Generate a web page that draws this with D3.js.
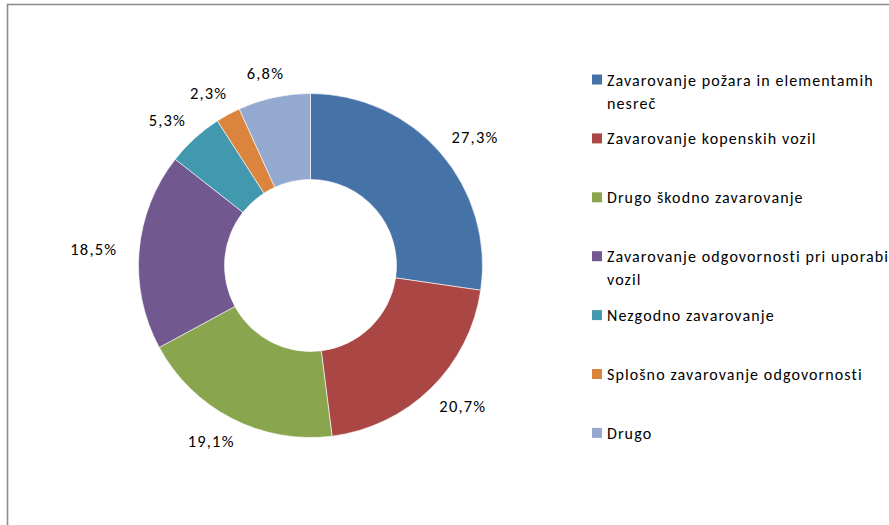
<!DOCTYPE html>
<html>
<head>
<meta charset="utf-8">
<script src="https://cdn.jsdelivr.net/npm/d3@7"></script>
<style>
  body { margin: 0; background: #fff; }
  svg text { font-family: Carlito, Lato, "Open Sans", sans-serif; fill: #000; }
</style>
</head>
<body>
<svg id="chart" width="889" height="525"></svg>
<script>
// data
const categories = [
  "Zavarovanje požara in elementamih nesreč",
  "Zavarovanje kopenskih vozil",
  "Drugo škodno zavarovanje",
  "Zavarovanje odgovornosti pri uporabi vozil",
  "Nezgodno zavarovanje",
  "Splošno zavarovanje odgovornosti",
  "Drugo"
];
const shares = [27.3, 20.7, 19.1, 18.5, 5.3, 2.3, 6.8];
const sliceColors = ["#4572a7", "#aa4643", "#89a54e", "#71588f", "#4198af", "#db843d", "#93a9cf"];

const svg = d3.select("#chart"),
      width = +svg.attr("width"),
      height = +svg.attr("height");

// chart frame (runs off the right and bottom edges)
svg.append("rect")
  .attr("x", 7.5).attr("y", 4.5)
  .attr("width", width + 20).attr("height", height + 20)
  .attr("fill", "none")
  .attr("stroke", "#8e8e8e")
  .attr("stroke-width", 1.6);

const cx = 310.5, cy = 265.5;
const outerR = 172, innerR = 86;

const data = categories.map((c, i) => ({ name: c, value: shares[i], color: sliceColors[i] }));

const pie = d3.pie().value(d => d.value).sort(null);
const arc = d3.arc().innerRadius(innerR).outerRadius(outerR);
const arcs = pie(data);

const g = svg.append("g").attr("transform", `translate(${cx},${cy})`);

g.selectAll("path")
  .data(arcs)
  .enter()
  .append("path")
  .attr("d", arc)
  .attr("fill", d => d.data.color)
  .attr("stroke", "#fff")
  .attr("stroke-width", 0.6);

// percentage labels outside the ring
const fmt = v => v.toFixed(1).replace(".", ",") + "%";
g.selectAll("text.lbl")
  .data(arcs)
  .enter()
  .append("text")
  .attr("class", "lbl")
  .attr("font-size", 16.5)
  .attr("letter-spacing", 1.2)
  .attr("text-anchor", "middle")
  .attr("dominant-baseline", "central")
  .text(d => fmt(d.data.value))
  .each(function (d) {
    const a = (d.startAngle + d.endAngle) / 2;
    const s = Math.sin(a), c = Math.cos(a);
    const w = this.getComputedTextLength(), h = 16;
    const r = outerR + 8;
    const x = r * s + s * (w / 2 + 14);
    const y = -r * c - c * (h / 2 + 9);
    d3.select(this).attr("x", x).attr("y", y);
  });

// legend
const legX = 592, legY = 79.5, legStep = 58.9, maxW = 292, lineH = 23;
const leg = svg.append("g");
data.forEach((d, i) => {
  const y = legY + i * legStep;
  leg.append("rect")
    .attr("x", legX).attr("y", y - 5)
    .attr("width", 10).attr("height", 10)
    .attr("fill", d.color);
  const t = leg.append("text")
    .attr("x", legX + 15).attr("y", y)
    .attr("font-size", 16)
    .attr("letter-spacing", 1.1)
    .attr("dominant-baseline", "central");
  // wrap words into lines
  const words = d.name.split(" ");
  let line = [];
  let tspan = t.append("tspan").attr("x", legX + 15).attr("dy", 0);
  words.forEach(wd => {
    line.push(wd);
    tspan.text(line.join(" "));
    if (tspan.node().getComputedTextLength() > maxW && line.length > 1) {
      line.pop();
      tspan.text(line.join(" "));
      line = [wd];
      tspan = t.append("tspan").attr("x", legX + 15).attr("dy", lineH).text(wd);
    }
  });
});
</script>
</body>
</html>
